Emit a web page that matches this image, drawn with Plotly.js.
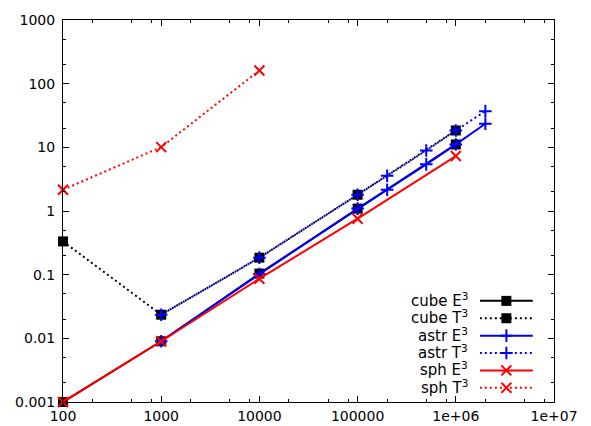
<!DOCTYPE html>
<html>
<head>
<meta charset="utf-8">
<script src="https://cdn.plot.ly/plotly-3.0.1.min.js"></script>
<style>html,body{margin:0;padding:0;background:#fff;}#chart{width:591px;height:426px;}</style>
</head>
<body>
<div id="chart"></div>
<script>
// ---- data ----
const seriesNames = ["cube E<sup>3</sup>", "cube T<sup>3</sup>", "astr E<sup>3</sup>", "astr T<sup>3</sup>", "sph E<sup>3</sup>", "sph T<sup>3</sup>"];
const xCube = [100, 1000, 10000, 100000, 1000000];
const cubeE3 = [0.001, 0.009, 0.104, 1.09, 11.1];
const cubeT3 = [0.333, 0.0235, 0.185, 1.80, 18.4];
const xAstr = [1000, 10000, 100000, 200000, 500000, 1000000, 2000000];
const astrE3 = [0.009, 0.102, 1.09, 2.16, 5.4, 11.1, 23.5];
const astrT3 = [0.0235, 0.185, 1.80, 3.58, 8.9, 18.4, 37];
const xSphE = [100, 1000, 10000, 100000, 1000000];
const sphE3 = [0.001, 0.009, 0.0865, 0.757, 7.3];
const xSphT = [100, 1000, 10000];
const sphT3 = [2.16, 10.07, 161];
const xTickVals = [100, 1000, 10000, 100000, 1000000, 10000000];
const xTickText = ["100", "1000", "10000", "100000", "1e+06", "1e+07"];
const yTickVals = [0.001, 0.01, 0.1, 1, 10, 100, 1000];
const yTickText = ["0.001", "0.01", "0.1", "1", "10", "100", "1000"];

// ---- styles ----
const DOT = "2px,3px";
const styles = [
  {color: "#000000", dash: "solid", symbol: "square", size: 10, lw: 0},
  {color: "#000000", dash: DOT, symbol: "square", size: 10, lw: 0},
  {color: "#0000ff", dash: "solid", symbol: "cross-thin", size: 9, lw: 2},
  {color: "#0000ff", dash: DOT, symbol: "cross-thin", size: 9, lw: 2},
  {color: "#ff0000", dash: "solid", symbol: "x-thin", size: 10, lw: 2},
  {color: "#ff0000", dash: DOT, symbol: "x-thin", size: 10, lw: 2}
];
const xs = [xCube, xCube, xAstr, xAstr, xSphE, xSphT];
const ys = [cubeE3, cubeT3, astrE3, astrT3, sphE3, sphT3];

const traces = [];
for (let i = 0; i < 6; i++) {
  const s = styles[i];
  traces.push({
    x: xs[i], y: ys[i], type: "scatter", mode: "lines+markers", name: seriesNames[i],
    cliponaxis: false,
    line: {color: s.color, width: 2, dash: s.dash},
    marker: {symbol: s.symbol, size: s.size, color: s.color, line: {color: s.color, width: s.lw}},
    showlegend: false, hoverinfo: "skip"
  });
}
// legend samples on a hidden helper axis pair
const annotations = [];
for (let i = 0; i < 6; i++) {
  const s = styles[i];
  traces.push({
    x: [0, 1], y: [i, i], xaxis: "x2", yaxis: "y2", type: "scatter", mode: "lines",
    cliponaxis: false, line: {color: s.color, width: 2, dash: s.dash},
    showlegend: false, hoverinfo: "skip"
  });
  traces.push({
    x: [0.5], y: [i], xaxis: "x2", yaxis: "y2", type: "scatter", mode: "markers",
    cliponaxis: false,
    marker: {symbol: s.symbol, size: s.size, color: s.color, line: {color: s.color, width: s.lw}},
    showlegend: false, hoverinfo: "skip"
  });
  annotations.push({
    xref: "x2", yref: "y2", x: 0, y: i, xanchor: "right", yanchor: "middle", xshift: -10, yshift: 1,
    text: seriesNames[i], showarrow: false,
    font: {family: "DejaVu Sans", size: 15, color: "#000"}
  });
}

const tickFont = {family: "DejaVu Sans", size: 14, color: "#000"};
const layout = {
  width: 591, height: 426,
  margin: {l: 63, r: 37, t: 19.5, b: 24.3, pad: 0},
  paper_bgcolor: "#fff", plot_bgcolor: "#fff",
  showlegend: false,
  font: tickFont,
  xaxis: {
    type: "log", range: [2, 7], tickmode: "array", tickvals: xTickVals, ticktext: xTickText,
    ticks: "inside", ticklen: 6, tickwidth: 1, tickcolor: "#000",
    showline: true, linecolor: "#000", linewidth: 1, mirror: "allticks",
    showgrid: false, zeroline: false, tickfont: tickFont, ticklabelstandoff: 1,
    minor: {tickmode: "array", tickvals: [200, 500, 800, 2000, 5000, 8000, 20000, 50000, 80000, 200000, 500000, 800000, 2000000, 5000000, 8000000],
            ticks: "inside", ticklen: 3, tickwidth: 1, tickcolor: "#000", showgrid: false}
  },
  yaxis: {
    type: "log", range: [-3, 3], tickmode: "array", tickvals: yTickVals, ticktext: yTickText,
    ticks: "inside", ticklen: 6, tickwidth: 1, tickcolor: "#000",
    showline: true, linecolor: "#000", linewidth: 1, mirror: "allticks",
    showgrid: false, zeroline: false, tickfont: tickFont, ticklabelstandoff: 4,
    minor: {tickmode: "array", tickvals: [0.002, 0.005, 0.02, 0.05, 0.2, 0.5, 2, 5, 20, 50, 200, 500],
            ticks: "inside", ticklen: 3, tickwidth: 1, tickcolor: "#000", showgrid: false}
  },
  xaxis2: {domain: [0.849, 0.957], range: [0, 1], anchor: "y2", visible: false, fixedrange: true},
  yaxis2: {domain: [0.0144, 0.2875], range: [5.5, -0.5], anchor: "x2", visible: false, fixedrange: true},
  annotations: annotations
};
Plotly.newPlot("chart", traces, layout, {displayModeBar: false, staticPlot: true});
</script>
</body>
</html>
